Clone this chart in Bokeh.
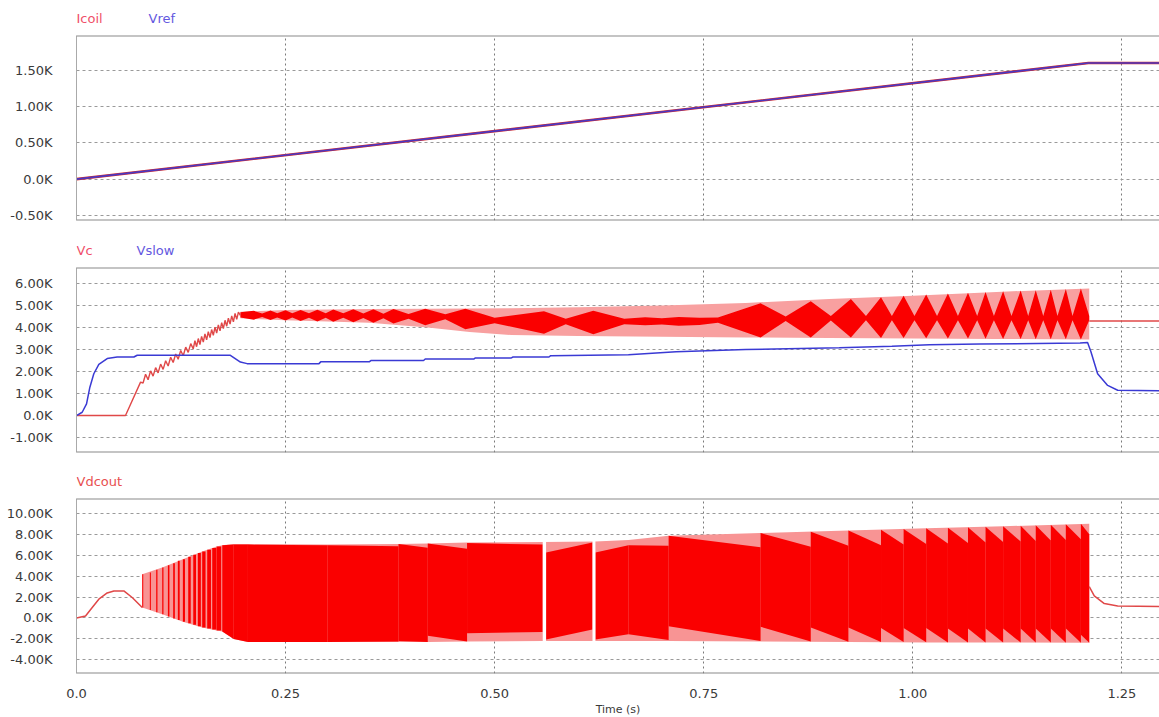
from bokeh.plotting import figure
from bokeh.layouts import column
from bokeh.models import Range1d, FixedTicker, Span, ColumnDataSource
from bokeh.core.properties import value
from bokeh.embed import file_html
from bokeh.resources import INLINE

# ------------------------------------------------------------------ data
time_ticks = [0.0, 0.25, 0.50, 0.75, 1.00, 1.25]
time_tick_labels = ["0.0", "0.25", "0.50", "0.75", "1.00", "1.25"]

p1_ticks = [-0.5, 0.0, 0.5, 1.0, 1.5]
p1_tick_labels = ["-0.50K", "0.0K", "0.50K", "1.00K", "1.50K"]
p2_ticks = [-1, 0, 1, 2, 3, 4, 5, 6]
p2_tick_labels = ["-1.00K", "0.0K", "1.00K", "2.00K", "3.00K", "4.00K", "5.00K", "6.00K"]
p3_ticks = [-4, -2, 0, 2, 4, 6, 8, 10]
p3_tick_labels = ["-4.00K", "-2.00K", "0.0K", "2.00K", "4.00K", "6.00K", "8.00K", "10.00K"]

# legend-like titles above each panel
p1_titles = ["Icoil", "Vref"]
p1_title_colors = ["#F0506A", "#6458E0"]
p2_titles = ["Vc", "Vslow"]
p2_title_colors = ["#F0506A", "#6458E0"]
p3_titles = ["Vdcout"]
p3_title_colors = ["#E85050"]

# panel 1 (values in K)
icoil_t = [0.0, 1.21, 1.295]
icoil_k = [0.0, 1.60, 1.60]
vref_t = [0.0, 1.21, 1.295]
vref_k = [0.0, 1.60, 1.60]

# panel 2 : Vc start-up ramp
vc_t = [0.0, 0.0586, 0.0766, 0.0796, 0.0826, 0.0856, 0.0886, 0.0916, 0.0946, 0.0976,
        0.1006, 0.1036, 0.1066, 0.1096, 0.1126, 0.1156, 0.1186, 0.1216, 0.1246, 0.1276,
        0.1306, 0.1336, 0.1366, 0.1396, 0.1416, 0.1436, 0.1456, 0.1476, 0.1496, 0.1516,
        0.1536, 0.1556, 0.1576, 0.1596, 0.1616, 0.1636, 0.1656, 0.1676, 0.1696, 0.1716,
        0.1736, 0.1756, 0.1776, 0.1796, 0.1816, 0.1836, 0.1856, 0.1876, 0.1896, 0.1916,
        0.1936, 0.196]
vc_k = [0.0, 0.0, 1.52, 1.48, 1.88, 1.63, 2.03, 1.79, 2.18, 1.94,
        2.34, 2.10, 2.49, 2.25, 2.65, 2.41, 2.80, 2.56, 2.96, 2.72,
        3.11, 2.87, 3.27, 3.03, 3.40, 3.13, 3.50, 3.23, 3.60, 3.34,
        3.71, 3.44, 3.81, 3.54, 3.91, 3.65, 4.02, 3.75, 4.12, 3.85,
        4.22, 3.95, 4.33, 4.06, 4.43, 4.16, 4.53, 4.26, 4.64, 4.37,
        4.70, 4.55]
# Vc oscillation: outer envelope (light) and beating core (dark diamonds)
vc_band_t = [0.196, 0.25, 0.35, 0.42, 0.47, 0.52, 0.60, 0.70, 0.80, 0.90, 1.00, 1.10, 1.211]
vc_band_hi = [4.72, 4.80, 4.84, 4.86, 4.87, 4.88, 4.92, 5.00, 5.12, 5.30, 5.45, 5.62, 5.78]
vc_band_lo = [4.42, 4.33, 4.22, 4.00, 3.80, 3.66, 3.62, 3.58, 3.55, 3.53, 3.50, 3.48, 3.46]
vc_dark_t = [0.196, 0.212, 0.222, 0.232, 0.240, 0.250, 0.258, 0.268, 0.278, 0.288,
             0.298, 0.307, 0.319, 0.331, 0.343, 0.355, 0.367, 0.379, 0.397, 0.417,
             0.441, 0.465, 0.500, 0.559, 0.585, 0.618, 0.655, 0.680, 0.700, 0.720,
             0.745, 0.767, 0.818, 0.848, 0.878, 0.902, 0.926, 0.944, 0.962, 0.975,
             0.989, 1.002, 1.016, 1.029, 1.042, 1.054, 1.066, 1.077, 1.087, 1.097,
             1.108, 1.118, 1.129, 1.138, 1.147, 1.156, 1.165, 1.173, 1.183, 1.191,
             1.201, 1.211]
vc_dark_hi = [4.70, 4.76, 4.64, 4.78, 4.65, 4.79, 4.65, 4.80, 4.65, 4.81,
              4.65, 4.82, 4.65, 4.83, 4.64, 4.83, 4.63, 4.84, 4.62, 4.85,
              4.60, 4.86, 4.45, 4.74, 4.40, 4.76, 4.40, 4.47, 4.42, 4.48,
              4.45, 4.46, 5.10, 4.50, 5.20, 4.52, 5.30, 4.52, 5.38, 4.52,
              5.45, 4.52, 5.50, 4.52, 5.55, 4.52, 5.58, 4.52, 5.62, 4.52,
              5.65, 4.52, 5.68, 4.52, 5.70, 4.52, 5.72, 4.52, 5.75, 4.52,
              5.77, 4.52]
vc_dark_lo = [4.46, 4.36, 4.48, 4.34, 4.46, 4.32, 4.46, 4.30, 4.45, 4.28,
              4.45, 4.26, 4.44, 4.24, 4.43, 4.22, 4.42, 4.18, 4.40, 4.10,
              4.38, 3.92, 4.20, 3.72, 4.15, 3.70, 4.15, 4.10, 4.14, 4.08,
              4.12, 4.22, 3.55, 4.30, 3.55, 4.32, 3.55, 4.33, 3.53, 4.33,
              3.52, 4.33, 3.51, 4.33, 3.50, 4.33, 3.50, 4.33, 3.49, 4.33,
              3.48, 4.33, 3.48, 4.33, 3.47, 4.33, 3.47, 4.33, 3.47, 4.33,
              3.46, 4.33]
vc_end_t = [1.211, 1.295]
vc_end_k = [4.30, 4.30]

vslow_t = [0.0, 0.0068, 0.012, 0.016, 0.0207, 0.0267, 0.0367, 0.0486, 0.0686, 0.0726,
           0.184, 0.196, 0.204, 0.290, 0.292, 0.350, 0.352, 0.415, 0.417, 0.475,
           0.477, 0.520, 0.522, 0.565, 0.567, 0.660, 0.717, 0.800, 0.912, 0.975,
           1.020, 1.080, 1.200, 1.209, 1.213, 1.221, 1.233, 1.245, 1.295]
vslow_k = [0.0, 0.15, 0.53, 1.29, 1.90, 2.33, 2.59, 2.66, 2.66, 2.74,
           2.74, 2.43, 2.36, 2.36, 2.44, 2.44, 2.50, 2.50, 2.57, 2.57,
           2.62, 2.62, 2.66, 2.66, 2.72, 2.76, 2.90, 3.00, 3.08, 3.15,
           3.22, 3.25, 3.30, 3.32, 2.90, 1.90, 1.37, 1.15, 1.13]

# panel 3 : Vdcout
vd_t = [0.0, 0.0108, 0.0188, 0.0267, 0.0367, 0.0447, 0.0566, 0.0666, 0.0786]
vd_k = [0.0, 0.19, 0.99, 1.79, 2.39, 2.58, 2.58, 1.95, 0.99]
vd_band_t = [0.0786, 0.1025, 0.1272, 0.1503, 0.1675, 0.1743, 0.188, 0.205, 0.300, 0.385,
             0.420, 0.467, 0.5575, 0.6205, 0.660, 0.708, 0.818, 0.923, 1.016, 1.108, 1.211]
vd_band_hi = [4.18, 4.82, 5.61, 6.35, 6.83, 6.95, 7.05, 7.05, 7.00, 7.05,
              7.10, 7.20, 7.25, 7.30, 7.45, 7.85, 8.10, 8.35, 8.55, 8.75, 9.00]
vd_band_lo = [1.00, 0.35, -0.35, -0.90, -1.20, -1.30, -2.00, -2.30, -2.30, -2.30,
              -2.30, -2.25, -2.20, -2.20, -2.20, -2.20, -2.25, -2.30, -2.33, -2.35, -2.36]
vd_spk_t0 = [0.0786, 0.0877, 0.0953, 0.1025, 0.1093, 0.1156, 0.1212, 0.1272, 0.1336, 0.1396,
             0.1451, 0.1503, 0.1563, 0.1623, 0.1675]
vd_spk_t1 = [0.0798, 0.0889, 0.0968, 0.1040, 0.1111, 0.1176, 0.1234, 0.1297, 0.1366, 0.1429,
             0.1487, 0.1543, 0.1608, 0.1673, 0.1730]
vd_spk_top = [4.18, 4.34, 4.59, 4.82, 5.04, 5.23, 5.45, 5.61, 5.84, 6.03,
              6.19, 6.35, 6.51, 6.67, 6.83]
vd_spk_bot = [1.00, 0.75, 0.55, 0.35, 0.15, -0.05, -0.20, -0.35, -0.50, -0.65,
              -0.80, -0.90, -1.00, -1.10, -1.20]
vd_blk_t0 = [0.1743, 0.188, 0.205, 0.300, 0.385, 0.420, 0.467, 0.5615, 0.6205, 0.660]
vd_blk_t1 = [0.188, 0.205, 0.300, 0.385, 0.420, 0.467, 0.5575, 0.617, 0.660, 0.708]
vd_blk_top0 = [6.95, 7.00, 7.00, 6.95, 7.05, 7.10, 7.15, 6.25, 6.25, 6.95]
vd_blk_top1 = [7.00, 7.00, 6.95, 6.85, 6.70, 6.60, 7.00, 7.20, 6.95, 6.90]
vd_blk_bot0 = [-1.30, -2.00, -2.30, -2.30, -2.20, -1.70, -1.45, -2.05, -2.05, -1.55]
vd_blk_bot1 = [-2.00, -2.30, -2.30, -2.25, -2.30, -2.25, -1.35, -1.10, -1.55, -2.10]
vd_tooth_t0 = [0.708, 0.818, 0.878, 0.923, 0.962, 0.989, 1.016, 1.042, 1.066, 1.087,
               1.108, 1.129, 1.147, 1.165, 1.183, 1.201]
vd_tooth_t1 = [0.818, 0.878, 0.923, 0.962, 0.989, 1.016, 1.042, 1.066, 1.087, 1.108,
               1.129, 1.147, 1.165, 1.183, 1.201, 1.211]
vd_tooth_top0 = [7.85, 8.10, 8.22, 8.35, 8.42, 8.48, 8.55, 8.60, 8.65, 8.70,
                 8.75, 8.80, 8.85, 8.90, 8.95, 9.00]
vd_tooth_top1 = [6.75, 6.80, 6.90, 6.95, 7.00, 7.05, 7.10, 7.15, 7.20, 7.25,
                 7.30, 7.35, 7.40, 7.45, 7.50, 8.00]
vd_tooth_bot0 = [-0.80, -0.85, -0.90, -0.90, -0.95, -0.95, -0.95, -1.00, -1.00, -1.00,
                 -1.00, -1.00, -1.00, -1.00, -1.00, -1.60]
vd_tooth_bot1 = [-2.20, -2.25, -2.28, -2.30, -2.30, -2.32, -2.33, -2.33, -2.34, -2.34,
                 -2.35, -2.35, -2.35, -2.36, -2.36, -2.36]
vd_gap_t0 = [0.5575, 0.617]
vd_gap_t1 = [0.5615, 0.6205]
vd_gap_top = [7.40, 7.40]
vd_gap_bot = [-2.40, -2.40]
vd_end_t = [1.211, 1.217, 1.229, 1.245, 1.295]
vd_end_k = [3.00, 2.10, 1.37, 1.15, 1.10]

# ------------------------------------------------------------------ style
RED_LINE = "#E04848"
DARK_RED = "#FA0000"
LIGHT_RED = "#F8A0A0"
BLUE = "#3A3AD4"
FONT = "DejaVu Sans"
X_END = 1.295
FRAME_W = 1083


def make_header(height, titles, colors, offsets):
    h = figure(frame_width=FRAME_W, frame_height=height,
               x_range=Range1d(0, X_END), y_range=Range1d(0, 1),
               output_backend="svg", toolbar_location=None,
               min_border_left=76, min_border_right=0,
               min_border_top=0, min_border_bottom=0,
               background_fill_color="white", border_fill_color="white")
    h.outline_line_color = None
    h.axis.visible = False
    h.grid.visible = False
    src = ColumnDataSource(dict(x=[0.0] * len(titles), y=[0.5] * len(titles),
                                text=titles, color=colors, dx=offsets))
    h.text(x="x", y="y", text="text", text_color="color", x_offset="dx", source=src,
           text_font=value(FONT), text_font_size=value("13px"),
           text_baseline=value("middle"), text_align=value("left"))
    return h


def make_fig(yr, ticks, labels, frame_h, bot_b, show_x):
    p = figure(frame_width=FRAME_W, frame_height=frame_h,
               x_range=Range1d(0, X_END), y_range=Range1d(*yr),
               output_backend="svg", toolbar_location=None,
               min_border_left=76, min_border_right=0,
               min_border_top=0, min_border_bottom=bot_b,
               background_fill_color="white", border_fill_color="white")
    p.outline_line_color = None
    p.yaxis.ticker = FixedTicker(ticks=ticks)
    p.yaxis.major_label_overrides = {t: l for t, l in zip(ticks, labels)}
    p.yaxis.major_tick_line_color = None
    p.yaxis.minor_tick_line_color = None
    p.yaxis.axis_line_color = "#aaaaaa"
    p.yaxis.major_label_standoff = 18
    p.yaxis.major_label_text_font = FONT
    p.yaxis.major_label_text_font_size = "13px"
    p.yaxis.major_label_text_color = "#3a3a3a"
    p.xaxis.ticker = FixedTicker(ticks=time_ticks)
    p.xaxis.major_label_overrides = {t: l for t, l in zip(time_ticks, time_tick_labels)}
    p.xgrid.ticker = FixedTicker(ticks=time_ticks)
    p.ygrid.ticker = FixedTicker(ticks=ticks)
    p.xgrid.grid_line_color = "#7a7a7a"
    p.xgrid.grid_line_dash = "2 3"
    p.ygrid.grid_line_color = "#9a9a9a"
    p.ygrid.grid_line_dash = "3 3"
    if show_x:
        p.xaxis.major_tick_line_color = None
        p.xaxis.minor_tick_line_color = None
        p.xaxis.axis_line_color = None
        p.xaxis.major_label_standoff = 9
        p.xaxis.major_label_text_font = FONT
        p.xaxis.major_label_text_font_size = "13px"
        p.xaxis.major_label_text_color = "#3a3a3a"
        p.xaxis.axis_label = "Time (s)"
        p.xaxis.axis_label_text_font = FONT
        p.xaxis.axis_label_text_font_size = "11px"
        p.xaxis.axis_label_text_font_style = "normal"
        p.xaxis.axis_label_text_color = "#3a3a3a"
        p.xaxis.axis_label_standoff = 2
    else:
        p.xaxis.visible = False
    for loc in yr:
        p.add_layout(Span(location=loc, dimension="width",
                          line_color="#8a8a8a", line_width=2))
    return p


# ---------------------------------------------------------------- panel 1
h1 = make_header(35, p1_titles, p1_title_colors, [0, 72])
yr1 = (-0.57, 1.98)
p1 = make_fig(yr1, p1_ticks, p1_tick_labels, 185, 12, False)
p1.line(icoil_t, icoil_k, line_color="#D42A2A", line_width=2.6)
p1.line(vref_t, vref_k, line_color=BLUE, line_width=1.6, line_alpha=0.9)

# ---------------------------------------------------------------- panel 2
h2 = make_header(35, p2_titles, p2_title_colors, [0, 60])
yr2 = (-1.68, 6.73)
p2 = make_fig(yr2, p2_ticks, p2_tick_labels, 185, 12, False)
p2.varea(x=vc_band_t, y1=vc_band_lo, y2=vc_band_hi, fill_color=LIGHT_RED)
p2.varea(x=vc_dark_t, y1=vc_dark_lo, y2=vc_dark_hi, fill_color=DARK_RED)
p2.line(vc_t, vc_k, line_color=RED_LINE, line_width=1.4)
p2.line(vc_end_t, vc_end_k, line_color=RED_LINE, line_width=1.4)
p2.line(vslow_t, vslow_k, line_color=BLUE, line_width=1.5)

# ---------------------------------------------------------------- panel 3
h3 = make_header(34, p3_titles, p3_title_colors, [0])
yr3 = (-5.3, 11.4)
p3 = make_fig(yr3, p3_ticks, p3_tick_labels, 175, 44, True)
p3.varea(x=vd_band_t, y1=vd_band_lo, y2=vd_band_hi, fill_color="#F89494")
p3.quad(left=vd_spk_t0, right=vd_spk_t1, bottom=vd_spk_bot, top=vd_spk_top,
        fill_color=DARK_RED, line_color=None)
blk_xs = [[a, b, b, a] for a, b in zip(vd_blk_t0, vd_blk_t1)]
blk_ys = [[t0, t1, b1, b0] for t0, t1, b0, b1 in zip(vd_blk_top0, vd_blk_top1, vd_blk_bot0, vd_blk_bot1)]
p3.patches(blk_xs, blk_ys, fill_color=DARK_RED, line_color=None)
th_xs = [[a, b, b, a] for a, b in zip(vd_tooth_t0, vd_tooth_t1)]
th_ys = [[t0, t1, b1, b0] for t0, t1, b0, b1 in zip(vd_tooth_top0, vd_tooth_top1, vd_tooth_bot0, vd_tooth_bot1)]
p3.patches(th_xs, th_ys, fill_color=DARK_RED, line_color=None)
p3.quad(left=vd_gap_t0, right=vd_gap_t1, bottom=vd_gap_bot, top=vd_gap_top,
        fill_color="white", line_color=None)
p3.line(vd_t, vd_k, line_color=RED_LINE, line_width=1.5)
p3.line(vd_end_t, vd_end_k, line_color=RED_LINE, line_width=1.5)

layout = column(h1, p1, h2, p2, h3, p3, spacing=0)
open("out.html", "w").write(file_html(layout, INLINE))
